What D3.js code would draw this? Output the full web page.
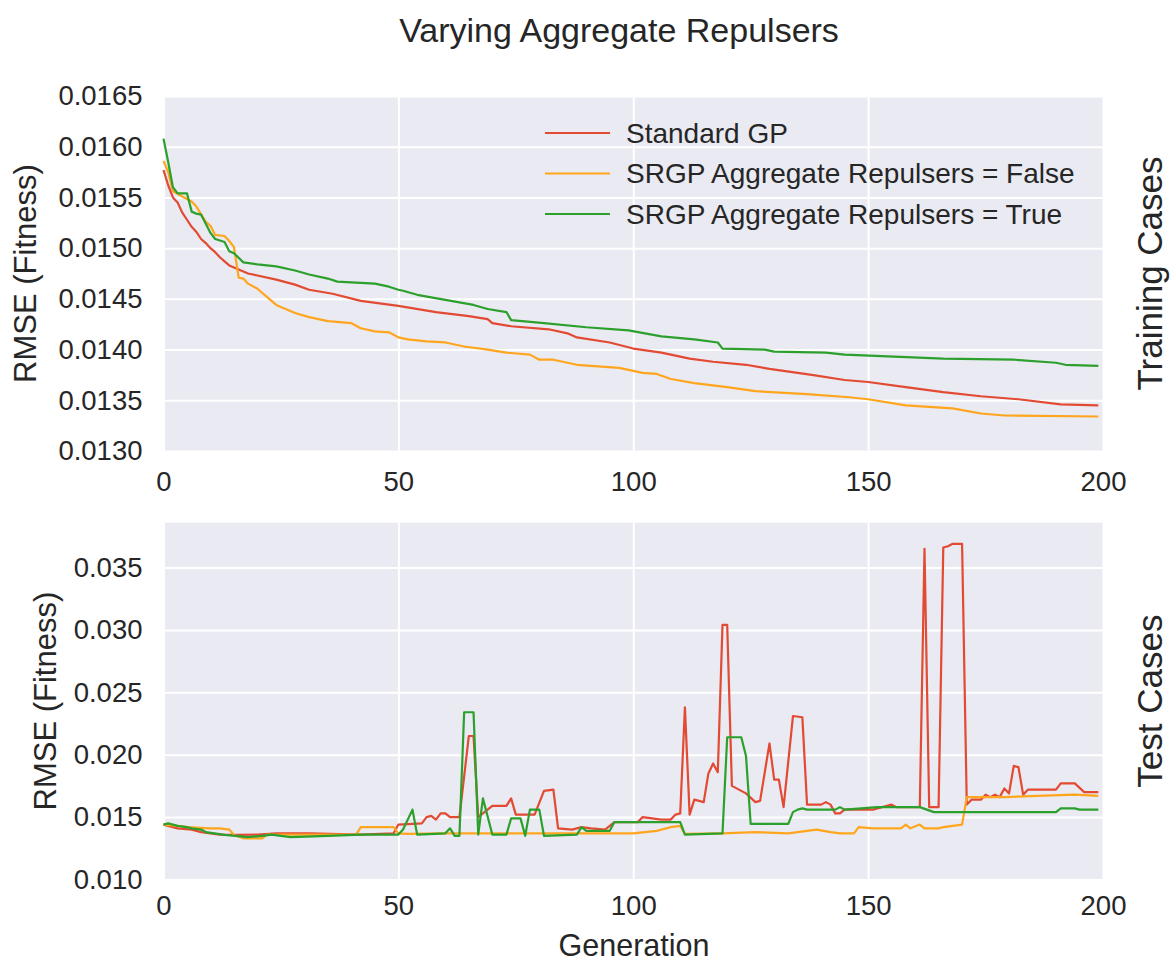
<!DOCTYPE html>
<html>
<head>
<meta charset="utf-8">
<script src="https://cdn.jsdelivr.net/npm/d3@7"></script>
<style>
  body { margin: 0; background: #fff; }
  text { font-family: "Liberation Sans", Arial, sans-serif; fill: #262626; }
</style>
</head>
<body>
<script>
// chart data (generation, RMSE)
var seriesNames = ["Standard GP", "SRGP Aggregate Repulsers = False", "SRGP Aggregate Repulsers = True"];
var colors = ["#e24a33", "#ffa51e", "#2ca02c"];
var xTicks = [0, 50, 100, 150, 200];
var trainTicks = [0.0130, 0.0135, 0.0140, 0.0145, 0.0150, 0.0155, 0.0160, 0.0165];
var testTicks = [0.010, 0.015, 0.020, 0.025, 0.030, 0.035];

// training cases
var trainStdGen = [0,1,2,3,4,5,6,7,8,9,10,11,12,13,14,15,16,18,20,24,28,31,36,42,50,58,65,69,70,74,82,86,88,95,100,106,112,117,124,129,138,145,150,158,166,174,182,191,199];
var trainStdVal = [0.01577,0.01562,0.01550,0.01545,0.01535,0.01528,0.01521,0.01516,0.01509,0.01505,0.01500,0.01496,0.01491,0.01487,0.01483,0.01481,0.01479,0.01475,0.01473,0.01469,0.01464,0.01459,0.01455,0.01448,0.01443,0.01437,0.01433,0.01430,0.01426,0.01423,0.01420,0.01416,0.01412,0.01407,0.01401,0.01397,0.01391,0.01388,0.01385,0.01381,0.01375,0.01370,0.01368,0.01363,0.01358,0.01354,0.01351,0.01346,0.01345];

var trainFalseGen = [0,1,2,4,6,7,9,10,11,13,14,15,16,17,18,20,22,24,26,28,31,35,40,42,45,48,50,52,56,60,64,69,73,78,80,83,88,97,102,105,108,113,120,123,126,137,146,150,158,168,174,179,199];
var trainFalseVal = [0.01586,0.01575,0.01556,0.01551,0.01546,0.01541,0.01526,0.01522,0.01513,0.01512,0.01507,0.01501,0.01471,0.01470,0.01465,0.01460,0.01452,0.01444,0.01440,0.01436,0.01432,0.01428,0.01426,0.01421,0.01418,0.01417,0.01412,0.01410,0.01408,0.01407,0.01403,0.01400,0.01397,0.01395,0.01390,0.01390,0.01385,0.01382,0.01377,0.01376,0.01371,0.01367,0.01363,0.01361,0.01359,0.01356,0.01353,0.01351,0.01345,0.01342,0.01337,0.01335,0.01334];

var trainTrueGen = [0,1,2,3,5,6,7,8,9,10,11,13,14,15,17,20,24,28,31,35,37,45,48,50,51,54,60,66,69,73,74,81,90,99,106,113,118,119,128,130,141,145,166,181,190,192,199];
var trainTrueVal = [0.01608,0.01585,0.01560,0.01554,0.01554,0.01536,0.01534,0.01533,0.01524,0.01515,0.01509,0.01506,0.01497,0.01495,0.01486,0.01484,0.01482,0.01478,0.01474,0.01470,0.01467,0.01465,0.01462,0.01459,0.01458,0.01454,0.01449,0.01444,0.01440,0.01437,0.01429,0.01426,0.01422,0.01419,0.01413,0.01410,0.01407,0.01401,0.01400,0.01398,0.01397,0.01395,0.01391,0.01390,0.01387,0.01385,0.01384];

// test cases
var testStdGen = [0,2,3,6,8,12,16,20,24,31,42,49,50,55,56,57,58,59,60,61,63,65,66,67,68,70,73,74,75,79,81,83,84,87,89,91,94,96,101,102,104,106,108,109,110,111,112,113,115,116,117,118,119,120,121,122,124,126,127,129,130,131,132,134,136,137,140,141,142,143,144,145,151,155,156,161,162,163,165,166,167,168,170,171,172,174,175,176,177,178,179,180,181,182,183,184,190,191,194,196,199];
var testStdVal = [0.0144,0.0142,0.0141,0.0140,0.0138,0.0136,0.01357,0.0136,0.0137,0.0137,0.0136,0.0137,0.0144,0.0145,0.0150,0.0151,0.0148,0.0153,0.0153,0.0150,0.0150,0.0215,0.0215,0.0150,0.0153,0.0159,0.0159,0.0165,0.0152,0.0152,0.0171,0.0172,0.0141,0.0140,0.0142,0.0141,0.0140,0.0146,0.0146,0.0150,0.0149,0.0148,0.0148,0.0152,0.0153,0.0238,0.0152,0.0164,0.0162,0.0185,0.0193,0.0186,0.0304,0.0304,0.0175,0.0173,0.0169,0.0162,0.0163,0.0209,0.0180,0.0180,0.0158,0.0231,0.0230,0.0160,0.0160,0.0162,0.0160,0.0153,0.0153,0.0156,0.0156,0.0160,0.0158,0.0158,0.0365,0.0158,0.0158,0.0366,0.0367,0.0369,0.0369,0.0160,0.0164,0.0164,0.0168,0.0166,0.0168,0.0166,0.0173,0.0169,0.0191,0.0190,0.0168,0.0172,0.0172,0.0177,0.0177,0.0170,0.0170];

var testFalseGen = [0,3,5,10,12,14,15,17,21,22,41,42,49,50,52,60,80,100,105,108,110,111,119,126,133,139,142,144,147,148,151,157,158,159,161,162,165,166,170,171,179,186,194,199];
var testFalseVal = [0.0144,0.0143,0.0142,0.0141,0.0141,0.0140,0.01357,0.0133,0.0133,0.0136,0.0136,0.0142,0.0142,0.0137,0.01365,0.0137,0.0137,0.0137,0.0139,0.0142,0.0143,0.01365,0.0137,0.0138,0.0137,0.0140,0.0138,0.0137,0.0137,0.0142,0.0141,0.0141,0.0144,0.0141,0.0144,0.0141,0.0141,0.0142,0.0144,0.0166,0.0166,0.0167,0.0168,0.0167];

var testTrueGen = [0,1,3,5,6,8,9,13,18,21,23,27,35,42,50,51,53,54,60,61,62,63,64,66,67,68,70,73,74,76,77,78,80,81,88,89,90,95,96,110,111,119,120,123,124,125,133,134,135,136,137,143,144,145,152,161,164,190,191,194,195,199];
var testTrueVal = [0.0144,0.0145,0.0143,0.0142,0.0141,0.0140,0.0138,0.01357,0.0134,0.0135,0.0136,0.0134,0.0135,0.0136,0.0136,0.0140,0.0156,0.0136,0.0137,0.0141,0.0135,0.0135,0.0234,0.0234,0.0136,0.0165,0.0136,0.0136,0.0149,0.0149,0.0135,0.0156,0.0156,0.0135,0.0136,0.0142,0.0139,0.0139,0.0146,0.0146,0.0136,0.0137,0.0214,0.0214,0.0199,0.01445,0.01445,0.0154,0.0156,0.0157,0.0156,0.0156,0.0158,0.0156,0.0158,0.0158,0.0154,0.0154,0.0157,0.0157,0.0156,0.0156];

var W = 1173, H = 964;
var left = 163.5, right = 1103;

var svg = d3.select("body").append("svg")
    .attr("width", W)
    .attr("height", H)
    .style("display", "block");

var xScale = d3.scaleLinear().domain([0, 200]).range([left, right]);

function zip(gens, vals) {
  return gens.map(function (g, i) { return [g, vals[i]]; });
}

function drawPanel(top, bottom, yDomain, yTicks, fmt, series, sideLabel, yLabelX, xPad) {
  var yScale = d3.scaleLinear().domain(yDomain).range([bottom, top]);

  svg.append("rect")
     .attr("x", left).attr("y", top)
     .attr("width", right - left).attr("height", bottom - top)
     .attr("fill", "#eaeaf2");

  // grid + tick labels
  var yAxis = svg.append("g")
     .attr("transform", "translate(" + left + ",0)")
     .call(d3.axisLeft(yScale).tickValues(yTicks).tickFormat(d3.format(fmt))
            .tickSize(-(right - left)).tickPadding(21));
  var xAxis = svg.append("g")
     .attr("transform", "translate(0," + bottom + ")")
     .call(d3.axisBottom(xScale).tickValues(xTicks).tickFormat(d3.format("d"))
            .tickSize(-(bottom - top)).tickPadding(xPad));
  [xAxis, yAxis].forEach(function (ax) {
    ax.select(".domain").remove();
    ax.selectAll(".tick line").attr("stroke", "#fff").attr("stroke-width", 2);
    ax.selectAll(".tick text").style("font-size", "27.5px").attr("fill", "#262626");
  });
  xAxis.selectAll(".tick text").attr("dy", "0.71em");

  var line = d3.line()
     .x(function (d) { return xScale(d[0]); })
     .y(function (d) { return yScale(d[1]); });

  series.forEach(function (s, i) {
    svg.append("path")
       .datum(s)
       .attr("d", line)
       .attr("fill", "none")
       .attr("stroke", colors[i])
       .attr("stroke-width", 2.2)
       .attr("stroke-linejoin", "round");
  });

  var mid = (top + bottom) / 2;
  svg.append("text")
     .attr("transform", "translate(" + yLabelX + "," + mid + ") rotate(-90)")
     .attr("text-anchor", "middle")
     .style("font-size", "31px")
     .text("RMSE (Fitness)");
  svg.append("text")
     .attr("transform", "translate(1162," + mid + ") rotate(-90)")
     .attr("text-anchor", "middle")
     .style("font-size", "35px")
     .text(sideLabel);
}

drawPanel(96, 451, [0.0130, 0.0165], trainTicks, ".4f",
  [zip(trainStdGen, trainStdVal), zip(trainFalseGen, trainFalseVal), zip(trainTrueGen, trainTrueVal)],
  "Training Cases", 36, 20);

drawPanel(522.7, 879.5, [0.010, 0.03859], testTicks, ".3f",
  [zip(testStdGen, testStdVal), zip(testFalseGen, testFalseVal), zip(testTrueGen, testTrueVal)],
  "Test Cases", 56, 16);

// title and x label
svg.append("text")
   .attr("x", 619).attr("y", 42)
   .attr("text-anchor", "middle")
   .style("font-size", "34px")
   .text("Varying Aggregate Repulsers");

svg.append("text")
   .attr("x", 634).attr("y", 956)
   .attr("text-anchor", "middle")
   .style("font-size", "30.5px")
   .text("Generation");

// legend
var legend = svg.append("g");
seriesNames.forEach(function (name, i) {
  var ly = 133 + i * 40.5;
  legend.append("line")
     .attr("x1", 545).attr("x2", 610)
     .attr("y1", ly).attr("y2", ly)
     .attr("stroke", colors[i]).attr("stroke-width", 2.2);
  legend.append("text")
     .attr("x", 626).attr("y", ly)
     .attr("dy", "0.35em")
     .style("font-size", "28px")
     .text(name);
});
</script>
</body>
</html>
